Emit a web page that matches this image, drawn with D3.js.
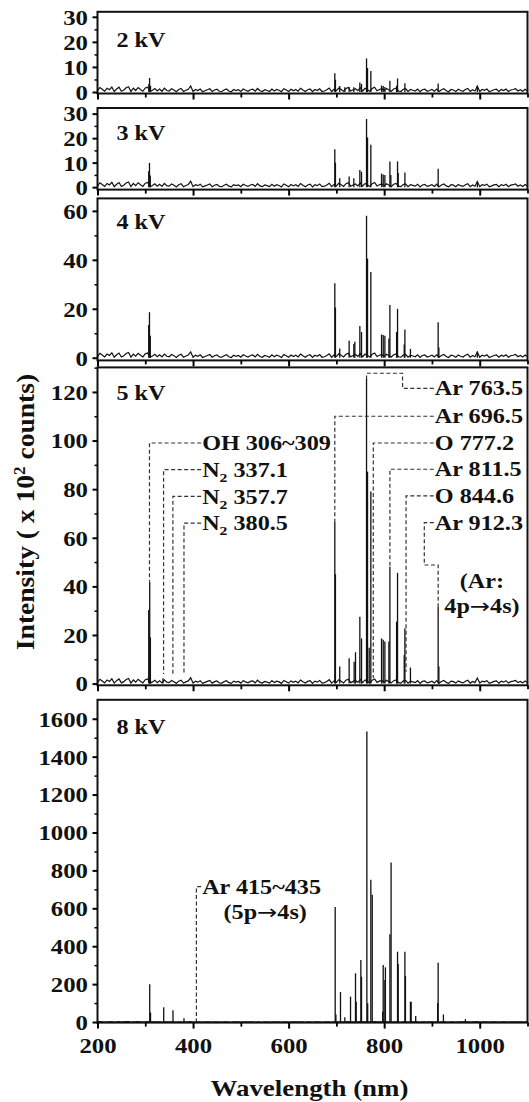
<!DOCTYPE html>
<html>
<head>
<meta charset="utf-8">
<script src="https://cdn.jsdelivr.net/npm/d3@7"></script>
<style>
  body { margin: 0; background: #fff; }
  svg { display: block; }
  text { font-family: "Liberation Serif", "Times New Roman", serif; font-weight: bold; fill: #111; }
</style>
</head>
<body>
<div id="chart"></div>
<script>
const [WIDTH, HEIGHT] = [529, 1102];
const STRETCH = 1.18; // glyphs in the picture are a bit wider than Times

// ---- data (intensity in x 10^2 counts, wavelength in nm) ----
const noiseStart = 200, noiseStep = 5;
const noise = [
  0.4, 1.8, 1.1, 0.3, 1.5, 0.9, 2.0, 0.2, 1.2, 1.9,
  0.3, 0.8, 1.7, 2.1, 0.2, 1.5, 0.6, 1.8, 1.0, 0.3,
  1.6, 1.9, 0.2, 0.7, 1.4, 0.4, 1.2, 0.3, 1.5, 0.6,
  0.4, 1.3, 0.8, 0.1, 1.0, 1.4, 0.2, 0.7, 1.1, 2.4,
  0.2, 1.0, 0.6, 1.2, 0.1, 0.5, 0.9, 1.3, 0.2, 0.8,
  1.1, 0.3, 0.2, 0.8, 1.2, 0.4, 0.1, 1.0, 0.6, 0.9,
  0.2, 1.2, 0.7, 0.3, 0.9, 1.1, 0.3, 1.4, 0.5, 0.2,
  0.9, 0.6, 0.2, 1.2, 0.4, 1.0, 0.7, 0.1, 1.3, 0.8,
  0.2, 1.1, 0.5, 1.0, 0.3, 1.5, 0.8, 0.2, 0.9, 1.2,
  0.1, 1.0, 0.6, 1.3, 0.2, 0.4, 0.9, 1.6, 0.2, 1.1,
  0.5, 1.6, 1.0, 0.3, 1.4, 1.8, 0.4, 0.9, 1.3, 0.5,
  1.7, 0.4, 1.5, 0.9, 0.3, 1.4, 1.9, 0.5, 1.0, 1.3,
  0.5, 1.4, 0.8, 0.3, 1.2, 1.5, 0.4, 0.2, 1.1, 1.3,
  0.2, 1.0, 0.7, 0.4, 1.2, 0.1, 0.9, 1.1, 0.3, 0.6,
  1.0, 0.3, 1.2, 0.2, 0.9, 1.3, 0.5, 0.1, 1.0, 0.8,
  0.2, 1.1, 0.6, 0.3, 1.0, 1.4, 0.2, 0.9, 0.4, 2.3,
  0.2, 1.0, 0.7, 1.2, 0.1, 0.5, 0.9, 1.1, 0.2, 1.0,
  0.6, 1.2, 0.2, 0.8, 1.0, 1.3, 0.4, 0.9, 0.3, 1.1,
  0.4
];

const peaks2kV = [[307.5, 3.2], [309, 5.6], [311, 2.5], [696.7, 7.5], [698, 4.9], [707, 2.4],
  [717.7, 1.9], [726.7, 2.0], [736.5, 1.9], [749.1, 3.8], [752.6, 3.2], [763.1, 13.4],
  [765.2, 9.6], [772.1, 8.4], [794.5, 2.6], [798, 2.4], [801.5, 2.0], [812, 4.5],
  [826, 2.5], [828, 5.4], [843.4, 3.5], [913, 3.4], [995, 2.5]];

const peaks3kV = [[307.2, 6.5], [308.8, 9.9], [310.5, 4.8], [696.7, 15.5], [698, 10], [707, 3.6],
  [726.7, 4.3], [736.5, 3.6], [749.1, 7], [752.6, 6.3], [763.1, 27.8], [765.2, 20.3],
  [772.1, 17.3], [794.5, 5.5], [798, 5.2], [801.5, 5], [812, 10.5], [814, 5],
  [828, 10.5], [829.4, 5.8], [843.4, 6], [913, 7.5], [995, 2.2]];

const peaks4kV = [[307.2, 13.4], [308.8, 18.6], [310.5, 9], [696.7, 30.4], [698, 20.5], [707, 3.8],
  [726.7, 6.9], [736.5, 5.6], [738.6, 6.5], [749.1, 13], [752.6, 10.5], [763.1, 58],
  [765.2, 40.5], [772.1, 35], [794.5, 9.5], [798, 9.3], [801.5, 9], [809.9, 7.8],
  [812, 21.5], [826, 10.5], [828, 20], [842, 5.4], [843.4, 11.5], [855, 3.6],
  [913, 14.5], [914.5, 4.2], [995, 2.5]];

const peaks5kV = [[307.2, 30.3], [309.3, 41.9], [310.7, 19], [337.1, 2.2], [696.7, 66.6], [698, 45],
  [707, 7], [726.7, 10.4], [737.2, 9], [740, 12.9], [749.1, 27.5], [752.6, 18.6],
  [763.1, 125.6], [765.2, 87.2], [768.7, 14.8], [772.1, 79], [794.5, 18.6], [798, 18],
  [801.5, 17.3], [809.9, 17.3], [812, 48.1], [826, 25.5], [828, 45.6], [842, 11.8],
  [843.4, 22.8], [855, 6.6], [913, 31.7], [914.5, 7]];

const peaks8kV = [[309.3, 199], [311, 50], [338.6, 78], [358, 62], [381, 20], [697.5, 607],
  [699, 40], [708.6, 158], [717.7, 25], [729.6, 134], [740, 257], [741.5, 107],
  [751.2, 327], [752.6, 239], [763.8, 1533], [765.5, 99], [772.1, 750], [775, 671],
  [797, 55], [798, 301], [801.5, 222], [802.6, 289], [812, 463], [814.5, 842],
  [828, 371], [829.4, 306], [843.4, 371], [844.5, 243], [855, 107], [856.5, 107],
  [866, 32], [912, 100], [913, 313], [924, 40], [970, 15]];

const panelNames = ['2 kV', '3 kV', '4 kV', '5 kV', '8 kV'];
const yTicks = [[0, 10, 20, 30], [0, 10, 20, 30], [0, 20, 40, 60],
  [0, 20, 40, 60, 80, 100, 120], [0, 200, 400, 600, 800, 1000, 1200, 1400, 1600]];
const yMinorStep = [5, 5, 10, 10, 100];
const xTicks = [200, 400, 600, 800, 1000];
const xMinorTicks = [300, 500, 700, 900, 1100];

// leader labels: line wavelength, label level, where the line stops
const labels5kV = [
  { text: 'OH 306~309', at: 308.8, level: 99, stop: 42, side: 'left' },
  { text: 'N_2 337.1', at: 338.3, level: 88, stop: 4, side: 'left' },
  { text: 'N_2 357.7', at: 357.8, level: 77, stop: 4, side: 'left' },
  { text: 'N_2 380.5', at: 381, level: 66, stop: 4, side: 'left' },
  { text: 'Ar 763.5', at: 763.1, level: 121.5, stop: 125.6, side: 'right', jog: [838.5, 127.7] },
  { text: 'Ar 696.5', at: 696.7, level: 110, stop: 66.6, side: 'right' },
  { text: 'O 777.2', at: 777.2, level: 99, stop: 2.3, side: 'right' },
  { text: 'Ar 811.5', at: 812, level: 88.2, stop: 48.1, side: 'right' },
  { text: 'O 844.6', at: 845.8, level: 77.2, stop: 4.9, side: 'right' },
  { text: 'Ar 912.3', at: 913, level: 66.2, stop: 31.7, side: 'right', jog: [884, 48.8] },
];
const notes5kV = [{ text: '(Ar:', at: 1004.7, level: 42.2 }, { text: '4p\u21924s)', at: 1004.7, level: 31.8 }];
const labels8kV = [{ text: 'Ar 415~435', at: 407, level: 714, stop: 0, side: 'left' }];
const notes8kV = [{ text: '(5p\u21924s)', at: 551, level: 580 }];
const labelStart = { left: 419, right: 906 };

// ---- layout ----
const x = d3.scaleLinear().domain([200, 1100]).range([97.5, 527.5]);
const PANELS = [
  { peaks: peaks2kV, top: 11.8, bottom: 93.5, domain: [-0.6, 32], labelY: 46.6 },
  { peaks: peaks3kV, top: 108, bottom: 189.6, domain: [-1, 32.3], labelY: 140 },
  { peaks: peaks4kV, top: 198.4, bottom: 360.4, domain: [-1.1, 65.1], labelY: 228.8 },
  { peaks: peaks5kV, top: 367.4, bottom: 685.3, domain: [-0.7, 130.1], labelY: 399.8,
    labels: labels5kV, notes: notes5kV },
  { peaks: peaks8kV, top: 699.8, bottom: 1022.6, domain: [-3, 1700], labelY: 734.2,
    labels: labels8kV, notes: notes8kV, xLabels: true },
];

const svg = d3.select('#chart').append('svg')
    .attr('width', WIDTH)
    .attr('height', HEIGHT)
    .attr('viewBox', `0 0 ${WIDTH} ${HEIGHT}`);

function addText(parent, px, py, str, size, anchor) {
    const t = parent.append('text')
        .attr('transform', `translate(${px},${py}) scale(${STRETCH},1)`)
        .attr('text-anchor', anchor || 'start')
        .attr('dy', '0.35em')
        .style('font-size', size + 'px');
    const parts = str.split(/_(\d)/);
    parts.forEach((p, i) => {
        if (i % 2 === 1) {
            t.append('tspan').attr('dy', size * 0.25).style('font-size', (size * 0.65) + 'px').text(p);
            return;
        }
        p.split(/(\u2192)/).forEach((q, j) => {
            if (!q) return;
            const s = t.append('tspan').text(q);
            if (j === 0 && i > 0) s.attr('dy', -size * 0.25);
            if (q === '\u2192') {
                s.style('font-family', '"DejaVu Sans"').style('font-weight', 'normal');
            }
        });
    });
    return t;
}

PANELS.forEach((p, i) => renderPanel(p, i));

function renderPanel(p, i) {
    const y = d3.scaleLinear().domain(p.domain).range([p.bottom, p.top]);
    const g = svg.append('g').attr('class', 'panel');

    // baseline noise
    g.append('path')
        .datum(noise)
        .attr('fill', 'none')
        .attr('stroke', '#111')
        .attr('stroke-width', 1.2)
        .attr('d', d3.line()
            .x((d, k) => x(noiseStart + k * noiseStep))
            .y((d) => y(d)));

    // emission lines
    g.selectAll('.peak')
        .data(p.peaks)
        .enter()
        .append('line')
        .attr('class', 'peak')
        .attr('stroke', '#111')
        .attr('stroke-width', 1.3)
        .attr('x1', (d) => x(d[0]))
        .attr('x2', (d) => x(d[0]))
        .attr('y1', y(0))
        .attr('y2', (d) => y(d[1]));

    // leader lines + labels
    (p.labels || []).forEach((l) => {
        const sx = x(labelStart[l.side]);
        const pts = [[sx - 1, y(l.level)]];
        if (l.jog) {
            pts.push([x(l.jog[0]), y(l.level)], [x(l.jog[0]), y(l.jog[1])], [x(l.at), y(l.jog[1])]);
        } else {
            pts.push([x(l.at), y(l.level)]);
        }
        pts.push([x(l.at), y(l.stop)]);
        g.append('path')
            .attr('fill', 'none')
            .attr('stroke', '#333')
            .attr('stroke-width', 1.2)
            .attr('stroke-dasharray', '4,2.5')
            .attr('d', d3.line()(pts));
        addText(g, sx, y(l.level), l.text, 20.5);
    });
    (p.notes || []).forEach((n) => addText(g, x(n.at), y(n.level), n.text, 20.5, 'middle'));

    // frame
    g.append('rect')
        .attr('x', x(200))
        .attr('y', p.top)
        .attr('width', x(1100) - x(200))
        .attr('height', p.bottom - p.top)
        .attr('fill', 'none')
        .attr('stroke', '#111')
        .attr('stroke-width', 2);

    // y axis
    const minor = d3.range(p.domain[0] < 0 ? 0 : p.domain[0], p.domain[1], yMinorStep[i])
        .filter((v) => yTicks[i].indexOf(v) < 0);
    g.append('g')
        .attr('transform', `translate(${x(200)},0)`)
        .call(d3.axisLeft(y).tickValues(minor).tickSize(3).tickFormat(''))
        .call((a) => a.select('.domain').remove())
        .call((a) => a.selectAll('line').attr('stroke-width', 1.5));
    g.append('g')
        .attr('transform', `translate(${x(200)},0)`)
        .call(d3.axisLeft(y).tickValues(yTicks[i]).tickSize(5).tickFormat(d3.format('d')))
        .call((a) => a.select('.domain').remove())
        .call((a) => a.selectAll('line').attr('stroke-width', 2))
        .call((a) => a.selectAll('text')
            .attr('x', 0).attr('dy', '0.35em')
            .attr('transform', `translate(-9.5,0) scale(${STRETCH},1)`)
            .attr('fill', '#111')
            .style('font-size', '21px')
            .style('font-family', null));

    // x axis ticks
    g.append('g')
        .attr('transform', `translate(0,${p.bottom})`)
        .call(d3.axisBottom(x).tickValues(xMinorTicks).tickSize(4).tickFormat(''))
        .call((a) => a.select('.domain').remove())
        .call((a) => a.selectAll('line').attr('stroke-width', 1.8));
    const xa = g.append('g')
        .attr('transform', `translate(0,${p.bottom})`)
        .call(d3.axisBottom(x).tickValues(xTicks).tickSize(6).tickFormat(p.xLabels ? d3.format('d') : ''))
        .call((a) => a.select('.domain').remove())
        .call((a) => a.selectAll('line').attr('stroke-width', 2));
    xa.selectAll('text')
        .attr('y', 0).attr('dy', '0.35em')
        .attr('transform', `translate(0,23) scale(${STRETCH},1)`)
        .attr('fill', '#111')
        .style('font-size', '21px')
        .style('font-family', null);

    // panel name
    g.append('text')
        .attr('transform', `translate(116.4,${p.labelY}) scale(${STRETCH},1)`)
        .style('font-size', '20.5px')
        .text(panelNames[i]);
}

// axis titles
svg.append('text')
    .attr('transform', `translate(309.5,1088) scale(1.12,1)`)
    .attr('text-anchor', 'middle')
    .attr('dy', '0.35em')
    .style('font-size', '24px')
    .text('Wavelength (nm)');

const yt = svg.append('text')
    .attr('transform', 'translate(33.5,512) rotate(-90) scale(1.06,1)')
    .attr('text-anchor', 'middle')
    .style('font-size', '26px');
yt.append('tspan').text('Intensity ( x 10');
yt.append('tspan').attr('dy', -9).style('font-size', '16px').text('2');
yt.append('tspan').attr('dy', 9).text(' counts)');
</script>
</body>
</html>
